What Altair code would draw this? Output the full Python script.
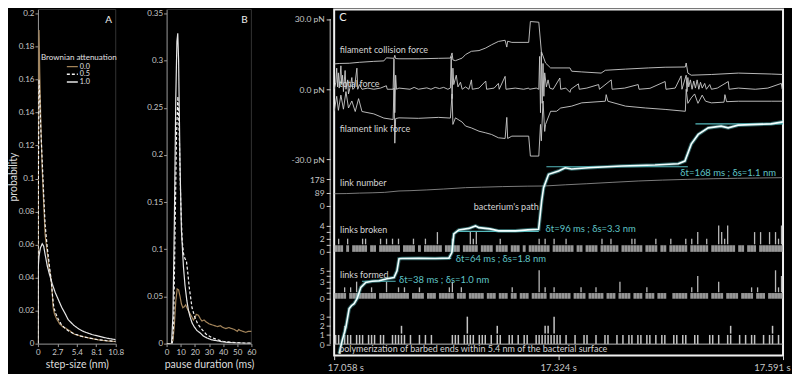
import altair as alt
import pandas as pd

FONT = "Lato"
TXT = "#d4d4d4"
AX = "#9a9a9a"
TAN = "#a3845a"
CYAN = "#55b9bc"

# ---------------- Panel A: step-size distributions ----------------
att_levels = ["0.0", "0.5", "1.0"]
att_colors = [TAN, "#f4f4f4", "#e6e6e6"]
att_dashes = [[1, 0], [3, 2], [1, 0]]
a_step_00 = [0, 0.05, 0.15, 0.25, 0.4, 0.58, 0.8, 1.0, 1.3, 1.55, 1.8, 2.0, 2.1, 2.3, 2.6, 3.0, 3.5, 3.8, 4.5, 5.1, 6.0, 7.3, 8.5, 9.6, 10.8]
a_prob_00 = [0, 0.10, 0.19, 0.165, 0.135, 0.107, 0.085, 0.066, 0.055, 0.046, 0.04, 0.03, 0.022, 0.018, 0.015, 0.012, 0.010, 0.0095, 0.0075, 0.0056, 0.0045, 0.0032, 0.0022, 0.0016, 0.0012]
a_step_05 = [0, 0.05, 0.15, 0.25, 0.4, 0.6, 0.8, 1.0, 1.3, 1.6, 1.85, 2.05, 2.2, 2.5, 2.8, 3.2, 3.7, 4.3, 5.0, 6.0, 7.0, 8.2, 9.5, 10.8]
a_prob_05 = [0, 0.09, 0.16, 0.15, 0.13, 0.11, 0.09, 0.072, 0.058, 0.047, 0.038, 0.028, 0.022, 0.018, 0.015, 0.012, 0.0095, 0.0075, 0.006, 0.0045, 0.0035, 0.0025, 0.0018, 0.0013]
a_step_10 = [0, 0.03, 0.15, 0.35, 0.6, 0.8, 1.0, 1.3, 1.6, 2.0, 2.4, 2.9, 3.3, 3.8, 4.2, 5.0, 5.7, 6.4, 7.5, 8.7, 9.7, 10.8]
a_prob_10 = [0, 0.045, 0.053, 0.058, 0.0605, 0.059, 0.054, 0.047, 0.042, 0.036, 0.031, 0.026, 0.022, 0.018, 0.0145, 0.011, 0.0088, 0.0072, 0.0055, 0.0042, 0.0032, 0.0024]
a_ticks_x = [0, 2.7, 5.4, 8.1, 10.8]
a_ticks_y = [0, 0.02, 0.04, 0.06, 0.08, 0.1, 0.12, 0.14, 0.16, 0.18, 0.2]

# ---------------- Panel B: pause-duration distributions ----------------
b_pause_00 = [0, 3, 4.5, 5.5, 6.5, 7.5, 8.5, 9.5, 10.5, 11.5, 12.5, 13.5, 15, 16.5, 18, 19, 20, 21, 22.5, 24, 25, 26.5, 28, 30, 32, 34, 36, 38, 40, 42, 44, 46, 48, 50, 51, 52, 54, 56, 58, 60]
b_prob_00 = [0, 0, 0.003, 0.02, 0.045, 0.058, 0.057, 0.05, 0.042, 0.038, 0.039, 0.041, 0.036, 0.032, 0.028, 0.025, 0.027, 0.031, 0.03, 0.026, 0.024, 0.025, 0.023, 0.021, 0.02, 0.019, 0.018, 0.019, 0.017, 0.016, 0.017, 0.016, 0.015, 0.013, 0.015, 0.014, 0.013, 0.012, 0.013, 0.013]
b_pause_05 = [0, 4, 5, 6, 7, 8, 9, 10, 11, 12, 13, 14, 15, 16, 18, 20, 22, 25, 28, 32, 36, 40, 45, 50, 55, 60]
b_prob_05 = [0, 0, 0.02, 0.12, 0.22, 0.262, 0.22, 0.15, 0.11, 0.095, 0.09, 0.088, 0.075, 0.06, 0.038, 0.028, 0.021, 0.015, 0.01, 0.0065, 0.004, 0.0025, 0.0015, 0.001, 0.0006, 0.0004]
b_pause_10 = [0, 3.5, 4.5, 5.5, 6.5, 7.3, 7.9, 8.5, 9.5, 10.5, 11.9, 13, 14.3, 15.5, 16.7, 18, 19.5, 21.4, 24, 26, 28.6, 32, 35.7, 40, 45, 50, 55, 60]
b_prob_10 = [0, 0, 0.03, 0.13, 0.26, 0.32, 0.329, 0.3, 0.19, 0.12, 0.082, 0.062, 0.046, 0.035, 0.028, 0.022, 0.018, 0.014, 0.011, 0.008, 0.006, 0.004, 0.003, 0.0018, 0.001, 0.0006, 0.0003, 0.0002]
b_ticks_x = [0, 10, 20, 30, 40, 50, 60]
b_ticks_y = [0, 0.05, 0.1, 0.15, 0.2, 0.25, 0.3, 0.35]

# ---------------- Panel C: time course (ms after 17.058 s) ----------------
C_T0 = 17.058
C_MS_END = 533
c_time_ticks = [0, 266, 533]

collision_ms = [0, 6, 18, 30, 47, 59, 62, 71, 72, 73, 77, 101, 124, 138, 140, 141, 144, 152, 156, 163, 172, 180, 187, 195, 203, 205, 206, 211, 231, 233, 243, 246, 251, 257, 280, 282, 294, 317, 322, 346, 373, 393, 417, 418, 420, 424, 448, 480, 519, 533]
collision_pN = [10.8, 11.0, 11.1, 11.5, 11.9, 12.1, 13.4, 13.2, 14.5, 13.1, 13.0, 13.0, 13.2, 13.3, 15.5, 12.5, 12.2, 13.3, 14.8, 16.2, 16.5, 17.6, 19.0, 20.4, 20.9, 18.0, 20.5, 20.0, 20.0, 28.9, 28.6, 16.2, 11.2, 9.1, 9.1, 7.7, 7.4, 6.9, 8.1, 8.6, 9.1, 9.4, 9.5, 11.2, 6.9, 6.0, 6.3, 6.9, 6.5, 6.3]
link_ms = [0, 3, 5, 8, 11, 14, 17, 21, 25, 29, 33, 47, 59, 70, 71, 72, 73, 77, 100, 124, 138, 140, 141, 144, 152, 156, 163, 172, 180, 187, 195, 203, 205, 206, 211, 231, 233, 243, 245, 246, 248, 250, 251, 257, 264, 269, 282, 294, 322, 323, 325, 346, 370, 393, 417, 418, 420, 424, 428, 432, 437, 441, 448, 463, 464, 466, 480, 519, 533]
link_pN = [-9.4, -3, -9, -2.5, -8.5, -1, -8, -5, -9.5, -4, -9.5, -10.5, -12.3, -12.9, 0.5, -23, -12.5, -12.2, -12.4, -12.0, -12.3, -2, -15, -12.2, -14, -15.7, -16.5, -17.9, -18.6, -19.3, -20.7, -21, -12, -21, -20, -20, -28.5, -28.5, -15, -22, -5, -18, -15, -9.4, -9.4, -8, -7.2, -5.8, -5.1, -2.3, -5.1, -7.2, -8, -8.6, -9.4, 0, -6, -3.7, -2, -6, -2.5, -5.1, -5.8, -5.5, -2.3, -5.3, -5.1, -5.1, -5.1]
total_ms = [0, 2, 3, 4, 5, 6, 8, 9, 10, 11, 13, 14, 16, 17, 19, 21, 22, 24, 27, 28, 30, 33, 40, 47, 55, 62, 63, 70, 71, 72, 73, 74, 77, 90, 95, 100, 110, 115, 120, 125, 130, 135, 138, 139, 140, 141, 142, 145, 147, 150, 152, 156, 160, 163, 164, 172, 180, 181, 190, 195, 196, 203, 204, 215, 225, 231, 232, 240, 243, 244, 245, 246, 247, 248, 249, 250, 252, 254, 256, 260, 268, 269, 275, 280, 281, 290, 291, 300, 314, 315, 329, 330, 345, 361, 362, 375, 393, 394, 405, 412, 413, 418, 419, 420, 421, 423, 425, 427, 429, 431, 433, 435, 437, 440, 442, 446, 448, 455, 468, 469, 480, 500, 515, 531, 532, 533]
total_pN = [0, 3, 9, 1, 7, 0.5, 10, 2, 6, -1, 8, 0, 4, -2, 1, 5, 0, 0.5, 9, 0, 2, 0, 0.5, 0, 0.5, 1.5, 0, 0, 13, -10, 6, 0, 0.5, 0, 0.8, 0, 0.6, 0, 0.8, 0.3, 0.8, 0, 0.5, 14, -4, 9, 2, 6, 1, 3, 0, 1, 0, 4, 0, 0.5, 3.5, 0, 0.5, 2.5, 0, 5.5, 0, 0.5, 0, 0.5, 0, 0.5, 0, 14, -10, 16, -6, 11, -3, 7, 1, 4, 0.5, 0, 4.8, 0, 0.5, -1.3, 0, 2.3, 0, 0.5, 2, 0, 4, 0, 0.5, 2, 0, 0.4, 3.3, 0, 0.5, 5.7, 0, 6, -1, 5, 1, 4, 0, 3.5, 0.5, 4, 0, 3, 0.5, 2.5, 0, 2, 0, 0.5, 3.3, 0, 0.5, 0, 0.5, 2.5, 0, 0]
linknum_ms = [0, 15, 30, 45, 60, 77, 90, 110, 130, 156, 175, 200, 230, 250, 275, 300, 330, 361, 390, 420, 450, 479, 505, 533]
linknum_n = [81, 82, 85, 87, 90, 99, 101, 106, 112, 121, 124, 128, 131, 132, 140, 147, 156, 165, 171, 176, 180, 183, 185, 187]
path_ms = [5.9, 9.5, 13.9, 17.8, 20.5, 23.7, 27.2, 31.6, 37.5, 45, 53.3, 62.8, 71.1, 74.6, 77, 80.5, 100.7, 120, 136.2, 139.8, 142.1, 148, 160, 167.8, 171.7, 185, 195.4, 215.2, 230, 242.8, 246.4, 248.7, 254.6, 266.5, 274.4, 281.9, 302, 341.1, 381, 408.6, 416.5, 424, 432.3, 444.2, 459.5, 467.8, 479.7, 518.8, 533]
path_level = [2, 15, 28.3, 47, 50, 52, 57, 68.3, 73.3, 74.5, 75, 77, 78.3, 85, 97, 97.3, 97.5, 97.3, 97.7, 103.3, 122, 126, 127.5, 130, 128.3, 127, 125, 125, 126, 126.7, 155, 168.3, 181.7, 185, 188.3, 187, 188.3, 190, 191, 192.3, 195, 212, 221.7, 228.3, 230, 228.3, 231, 232.3, 234.3]
step_start_ms = [33, 77, 146, 252, 429]
step_end_ms = [73, 139, 243, 420, 533]
step_level = [74.5, 97.5, 124.5, 189.3, 232.3]
step_labels = ["δt=38 ms ; δs=1.0 nm", "δt=64 ms ; δs=1.8 nm", "δt=96 ms ; δs=3.3 nm", "δt=168 ms ; δs=1.1 nm"]
step_label_ms = [77, 144.5, 251, 411]
step_label_level = [76, 97, 127.3, 183]

BIN_MS = 533 / 150
links_broken = [int(c) for c in
    "1210201112" "2011021212" "1201112010" "2111310112" "1101132301"
    "1110121101" "1101011121" "2102111211" "0110111102" "1121101112"
    "2110111201" "1021111202" "1311201143" "2411011011" "3031131324"]
links_formed = [int(c) for c in
    "1112021311" "1121011311" "1212101121" "0111011123" "0121011111"
    "0111011102" "1011101151" "2012111110" "1121011211" "0111031110"
    "1110211011" "1001111102" "1411101131" "0111101112" "0211011524"]
polymerization = [int(c) for c in
    "1102110111" "0111011001" "1121010010" "1010000001" "1101311011"
    "1010210011" "0101100111" "2213110100" "1001100100" "1100101011"
    "0110110101" "1001101100" "1100011010" "0120010101" "1001012010"]

# ---------------- layout / track placement ----------------
A_W = 78
B_PLOT_W, B_VIEW_W = 85, 117
C_W = 450
AB_H, C_H = 335, 347
A_TOP = 0.2 * AB_H / 331
B_TOP = 0.35 * AB_H / 331
C_TOP = 347
FORCE_BASE, FORCE_K = 267.0, 2.35
LINK_BASE, LINK_K = 150.0, 27.0 / 178.0
BROKEN_BASE, BROKEN_K = 104.0, 6.6
FORMED_BASE, FORMED_K = 57.0, 5.7
POLY_BASE, POLY_K = 11.5, 9.17
NUM_LABEL = "'' + datum.value"


def curve(xs, ys, att):
    return pd.DataFrame({"x": xs, "y": ys, "att": att, "i": list(range(len(xs)))})


color_scale = alt.Scale(domain=att_levels, range=att_colors)
dash_scale = alt.Scale(domain=att_levels, range=att_dashes)


def legend_layers():
    """Hand-placed legend for panel A (title + three line samples)."""
    out = [alt.Chart(pd.DataFrame({"t": ["Brownian attenuation"]})).mark_text(
        font=FONT, fontSize=8, color="#e0e0e0", align="center", baseline="middle"
    ).encode(text="t:N", x=alt.value(41), y=alt.value(48.5))]
    for i, (lvl, col, dsh) in enumerate(zip(att_levels, att_colors, att_dashes)):
        yy = 57.3 + 7.7 * i
        row = pd.DataFrame({"t": [lvl]})
        out.append(alt.Chart(row).mark_rule(color=col, strokeWidth=1.4, strokeDash=dsh).encode(
            x=alt.value(29), x2=alt.value(40), y=alt.value(yy)))
        out.append(alt.Chart(row).mark_text(font=FONT, fontSize=7.2, color="#e0e0e0", align="left",
                                            baseline="middle").encode(
            text="t:N", x=alt.value(42), y=alt.value(yy)))
    return out


def dist_panel(df, xdom, xticks, xtitle, ytop, yticks, ytitle, plot_w, view_w, show_legend, letter):
    yax = alt.Axis(values=yticks, labelExpr=NUM_LABEL, tickSize=3, labelFontSize=8,
                   labelPadding=1, labelOverlap=False, grid=False,
                   titlePadding=0, titleFontSize=10.5)
    xax = alt.Axis(values=xticks, labelExpr=NUM_LABEL, tickSize=3, labelFontSize=8,
                   labelPadding=2, labelFlush=False, labelOverlap=False, grid=False,
                   titlePadding=3, titleFontSize=10.5)
    xsc = alt.Scale(domain=xdom, nice=False, range=[0, plot_w])
    ysc = alt.Scale(domain=[0, ytop], nice=False)
    lines = alt.Chart(df).mark_line(strokeWidth=1.2, clip=True).encode(
        x=alt.X("x:Q", scale=xsc, axis=xax, title=xtitle),
        y=alt.Y("y:Q", scale=ysc, axis=yax, title=ytitle),
        color=alt.Color("att:N", scale=color_scale, legend=None),
        strokeDash=alt.StrokeDash("att:N", scale=dash_scale, legend=None),
        order="i:Q",
    )
    # faint frame: right edge and top edge of the plot area
    frame_df = pd.DataFrame({"x0": [xdom[1], xdom[0]], "x1": [xdom[1], xdom[1]],
                             "y0": [0, ytop], "y1": [ytop, ytop]})
    frame = alt.Chart(frame_df).mark_rule(color="#333333", strokeWidth=1).encode(
        x=alt.X("x0:Q", scale=xsc, axis=xax, title=xtitle), x2="x1:Q",
        y=alt.Y("y0:Q", scale=ysc, axis=yax, title=ytitle), y2="y1:Q")
    lab = alt.Chart(pd.DataFrame({"t": [letter]})).mark_text(
        font=FONT, fontSize=10, color="#eeeeee", align="center", baseline="middle"
    ).encode(text="t:N", x=alt.value(plot_w - 7), y=alt.value(11))
    layers = [frame, lines, lab]
    if show_legend:
        layers += legend_layers()
    return alt.layer(*layers).properties(
        width=view_w, height=AB_H, view=alt.ViewBackground(stroke=None)
    )


a_df = pd.concat([curve(a_step_00, a_prob_00, "0.0"), curve(a_step_05, a_prob_05, "0.5"),
                  curve(a_step_10, a_prob_10, "1.0")])
b_df = pd.concat([curve(b_pause_00, b_prob_00, "0.0"), curve(b_pause_05, b_prob_05, "0.5"),
                  curve(b_pause_10, b_prob_10, "1.0")])

panel_a = dist_panel(a_df, [0, 10.8], a_ticks_x, "step-size (nm)", A_TOP, a_ticks_y,
                     "probability", A_W, A_W, True, "A")
panel_b = dist_panel(b_df, [0, 60], b_ticks_x, "pause duration (ms)", B_TOP, b_ticks_y,
                     None, B_PLOT_W, B_VIEW_W, False, "B")

# ---------------- Panel C ----------------
tick_pairs = [(FORCE_BASE + FORCE_K * 30, "30.0 pN"), (FORCE_BASE, "0.0 pN"),
              (FORCE_BASE - FORCE_K * 30, "-30.0 pN"),
              (LINK_BASE + LINK_K * 178, "178"), (LINK_BASE + LINK_K * 89, "89"), (LINK_BASE, "0")]
tick_pairs += [(BROKEN_BASE + BROKEN_K * k, str(k) if k in (0, 2, 4) else "") for k in range(5)]
tick_pairs += [(FORMED_BASE + FORMED_K * k, str(k) if k in (0, 3, 5) else "") for k in range(6)]
tick_pairs += [(POLY_BASE + POLY_K * k, str(k)) for k in range(4)]
tick_pairs = [(round(v, 2), s) for v, s in tick_pairs]


def label_expr(pairs):
    expr = "''"
    for v, lab in reversed(pairs):
        expr = f"abs(datum.value - {v}) < 0.02 ? '{lab}' : ({expr})"
    return expr


XS = alt.Scale(domain=[0, C_MS_END], nice=False, zero=False)
YS = alt.Scale(domain=[0, C_TOP], nice=False, zero=False)
X_AXIS = alt.Axis(values=c_time_ticks, labelExpr=f"format({C_T0} + datum.value/1000, '.3f') + ' s'",
                  domain=False, grid=False, tickSize=4, tickColor="#dddddd",
                  labelFontSize=9.5, labelPadding=3, labelFlushOffset=7, labelOverlap=False)
Y_AXIS = alt.Axis(values=[v for v, _ in tick_pairs], labelExpr=label_expr(tick_pairs),
                  domain=False, grid=False, offset=4, tickSize=4, tickColor="#cccccc",
                  labelFontSize=8.5, labelPadding=2, labelOverlap=False)


def cx(f):
    return alt.X(f"{f}:Q", scale=XS, axis=X_AXIS, title=None)


def cy(f):
    return alt.Y(f"{f}:Q", scale=YS, axis=Y_AXIS, title=None)


def events(counts, base, k):
    low = [{"ms": (i + 0.5) * BIN_MS, "u0": base, "u1": base + k}
           for i, c in enumerate(counts) if c > 0]
    high = [{"ms": (i + 0.5) * BIN_MS, "u0": base + k * 1.15, "u1": base + k * c}
            for i, c in enumerate(counts) if c > 1]
    return pd.DataFrame(low), pd.DataFrame(high)


br_lo, br_hi = events(links_broken, BROKEN_BASE, BROKEN_K)
fo_lo, fo_hi = events(links_formed, FORMED_BASE, FORMED_K)
po_lo, po_hi = events(polymerization, POLY_BASE, POLY_K)
band_layer = alt.Chart(pd.concat([br_lo, fo_lo])).mark_rule(
    strokeWidth=2.9, color="#b0b0b0", opacity=0.85).encode(x=cx("ms"), y=cy("u0"), y2="u1:Q")
upper_layer = alt.Chart(pd.concat([br_hi, fo_hi])).mark_rule(
    strokeWidth=1.3, color="#b8b8b8").encode(x=cx("ms"), y=cy("u0"), y2="u1:Q")
poly_layer = alt.Chart(pd.concat([po_lo, po_hi])).mark_rule(
    strokeWidth=1.5, color="#c4c4c4").encode(x=cx("ms"), y=cy("u0"), y2="u1:Q")

force_df = pd.concat([
    pd.DataFrame({"ms": collision_ms, "f": collision_pN, "s": "collision"}),
    pd.DataFrame({"ms": link_ms, "f": link_pN, "s": "link"}),
    pd.DataFrame({"ms": total_ms, "f": total_pN, "s": "total"}),
])
force_df["u"] = FORCE_BASE + FORCE_K * force_df["f"]
force_layer = alt.Chart(force_df).mark_line(strokeWidth=0.9, color="#cdcdcd").encode(
    x=cx("ms"), y=cy("u"), detail="s:N")

ln_df = pd.DataFrame({"ms": linknum_ms, "n": linknum_n})
ln_df["u"] = LINK_BASE + LINK_K * ln_df["n"]
ln_layer = alt.Chart(ln_df).mark_line(strokeWidth=0.8, color="#9a9a9a").encode(x=cx("ms"), y=cy("u"))

base_layer = alt.Chart(pd.DataFrame({"ms0": [0], "ms1": [C_MS_END], "u": [POLY_BASE]})).mark_rule(
    color="#bbbbbb", strokeWidth=1).encode(x=cx("ms0"), x2="ms1:Q", y=cy("u"))

axis_line = alt.Chart(pd.DataFrame({"u0": [POLY_BASE], "u1": [FORCE_BASE + FORCE_K * 30]})).mark_rule(
    color="#cccccc", strokeWidth=1).encode(x=alt.value(-4), y=cy("u0"), y2="u1:Q")

step_df = pd.DataFrame({"ms0": step_start_ms, "ms1": step_end_ms, "u": step_level})
step_layer = alt.Chart(step_df).mark_rule(color=CYAN, strokeWidth=1.2).encode(
    x=cx("ms0"), x2="ms1:Q", y=cy("u"))

path_df = pd.DataFrame({"ms": path_ms, "u": path_level})
path_glow = alt.Chart(path_df).mark_line(color=CYAN, strokeWidth=3.6, opacity=0.5).encode(
    x=cx("ms"), y=cy("u"))
path_line = alt.Chart(path_df).mark_line(color="#f4ffff", strokeWidth=1.6).encode(
    x=cx("ms"), y=cy("u"))

track_texts = pd.DataFrame({
    "t": ["filament collision force", "total force", "filament link force", "link number",
          "bacterium's path", "links broken", "links formed",
          "polymerization of barbed ends within 5.4 nm of the bacterial surface"],
    "ms": [6.5, 6, 6.5, 7, 165.8, 7, 7, 6],
    "u": [306, 272, 227, 173.3, 149, 126, 81, 6.3],
})
txt_layer = alt.Chart(track_texts).mark_text(font=FONT, fontSize=9, color=TXT, align="left",
                                             baseline="middle").encode(
    x=cx("ms"), y=cy("u"), text="t:N")
c_letter = alt.Chart(pd.DataFrame({"t": ["C"], "ms": [5.9], "u": [338]})).mark_text(
    font=FONT, fontSize=11, color="#eeeeee", align="left", baseline="middle").encode(
    x=cx("ms"), y=cy("u"), text="t:N")
cyan_df = pd.DataFrame({"t": step_labels, "ms": step_label_ms, "u": step_label_level})
cyan_txt = alt.Chart(cyan_df).mark_text(font=FONT, fontSize=9.5, color="#5fc4c6", align="left",
                                        baseline="middle").encode(
    x=cx("ms"), y=cy("u"), text="t:N")

panel_c = alt.layer(band_layer, upper_layer, poly_layer, ln_layer, force_layer, base_layer,
                    axis_line, step_layer, path_glow, path_line, txt_layer, c_letter,
                    cyan_txt).properties(
    width=C_W, height=C_H, view=alt.ViewBackground(stroke="#f0f0f0", strokeWidth=2))

chart = alt.hconcat(panel_a, panel_b, panel_c, spacing=51, bounds="flush").resolve_scale(
    color="independent", strokeDash="independent").properties(
    padding={"left": 0, "top": 0, "right": 0, "bottom": 0}
).configure(background="black").configure_axis(
    labelFont=FONT, titleFont=FONT, labelColor="#c8c8c8", titleColor="#dddddd",
    tickColor=AX, domainColor=AX, titleFontWeight="normal"
)

chart.save("out.html", embed_options={"renderer": "svg", "actions": False})
